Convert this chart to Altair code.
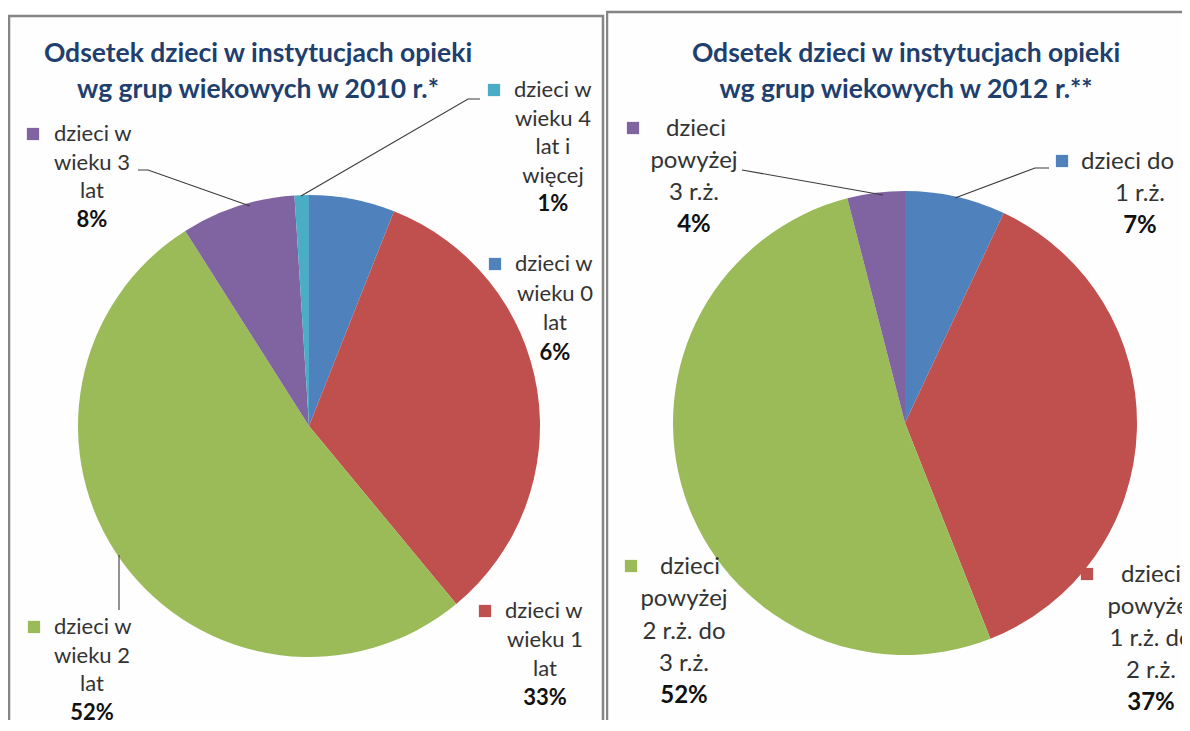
import altair as alt
import pandas as pd

# ---------------- data ----------------
title_2010 = ["Odsetek dzieci w instytucjach opieki", "wg grup wiekowych w 2010 r.*"]
title_2012 = ["Odsetek dzieci w instytucjach opieki", "wg grup wiekowych w 2012 r.**"]

cats_2010 = ["dzieci w wieku 0 lat", "dzieci w wieku 1 lat", "dzieci w wieku 2 lat",
             "dzieci w wieku 3 lat", "dzieci w wieku 4 lat i więcej"]
vals_2010 = [6, 33, 52, 8, 1]
lines_2010 = [["dzieci w", "wieku 0", "lat"], ["dzieci w", "wieku 1", "lat"],
              ["dzieci w", "wieku 2", "lat"], ["dzieci w", "wieku 3", "lat"],
              ["dzieci w", "wieku 4", "lat i", "więcej"]]

cats_2012 = ["dzieci do 1 r.ż.", "dzieci powyżej 1 r.ż. do 2 r.ż.",
             "dzieci powyżej 2 r.ż. do 3 r.ż.", "dzieci powyżej 3 r.ż."]
vals_2012 = [7, 37, 52, 4]
lines_2012 = [["dzieci do", "1 r.ż."], ["dzieci", "powyżej", "1 r.ż. do", "2 r.ż."],
              ["dzieci", "powyżej", "2 r.ż. do", "3 r.ż."], ["dzieci", "powyżej", "3 r.ż."]]

colors_2010 = ["#4F81BD", "#C0504D", "#9BBB59", "#8064A2", "#4BACC6"]
colors_2012 = ["#4F81BD", "#C0504D", "#9BBB59", "#8064A2"]

# ---------------- layout (page pixels) ----------------
FONT = "Lato"
TITLE_COLOR = "#1F3F6E"
W1, W2, H = 598, 576, 712

# per label: marker x, marker y, first-line left x, centre x of other lines, first y, line gap
layout_2010 = [(495, 264, 515, 555, 264, 29.5), (485, 611, 505, 545, 611, 29),
               (34, 627, 54, 92, 627, 28.7), (33, 134, 54, 92, 134, 28.5),
               (494, 90, 514, 553, 90, 28.5)]
layout_2012 = [(1062, 161, 1081, 1140, 162, 32), (1087, 574, 1121, 1151, 575, 32),
               (631, 566, 660, 684, 567, 32.3), (633, 128, 666, 694, 129, 32)]

leaders_2010 = [[(138, 170), (148, 170), (250, 206)],
                [(301, 196), (468, 99), (480, 99)],
                [(119, 555), (119, 610)]]
leaders_2012 = [[(742, 170), (883, 195)],
                [(955, 198), (1035, 168), (1049, 168)]]


def panel(ox, oy, W, cats, vals, colors, lines, layout, leaders, title, title_cx,
          title_ys, cx, cy, r, frame, fsize, clip):
    xs = alt.X("x:Q", scale=alt.Scale(domain=[0, W], nice=False, zero=False), axis=None)
    ys = alt.Y("y:Q", scale=alt.Scale(domain=[0, H], nice=False, zero=False, reverse=True), axis=None)

    fx0, fy0, fx1, fy1 = frame
    frame_df = pd.DataFrame({"x": [fx0 - ox], "x2": [fx1 - ox], "y": [fy0 - oy], "y2": [fy1 - oy]})
    frame_l = alt.Chart(frame_df).mark_rect(fill="#fefefe", stroke="#858585", strokeWidth=2.5,
                                            clip=True).encode(x=xs, x2="x2:Q", y=ys, y2="y2:Q")

    pie_df = pd.DataFrame({"cat": cats, "value": vals, "idx": list(range(len(cats)))})
    color = alt.Color("cat:N", scale=alt.Scale(domain=cats, range=colors), legend=None)
    pie = alt.Chart(pie_df).mark_arc(radius=r).encode(
        theta=alt.Theta("value:Q", stack=True),
        color=color,
        order=alt.Order("idx:Q"),
        x=alt.value(cx - ox), y=alt.value(cy - oy))

    lrows = []
    for i, pts in enumerate(leaders):
        for k, (px, py) in enumerate(pts):
            lrows.append({"id": i, "k": k, "x": px - ox, "y": py - oy})
    lead = alt.Chart(pd.DataFrame(lrows)).mark_line(color="#3a3a3a", strokeWidth=1.1).encode(
        x=xs, y=ys, detail="id:N", order="k:Q")

    mk, first, mid, pct = [], [], [], []
    for c, v, ln, (mx, my, fx, ccx, y0, gap) in zip(cats, vals, lines, layout):
        mk.append({"cat": c, "x": mx - ox, "y": my - oy})
        first.append({"t": ln[0], "x": fx - ox, "y": y0 - oy})
        for j, t in enumerate(ln[1:], start=1):
            mid.append({"t": t, "x": ccx - ox, "y": y0 + j * gap - oy})
        pct.append({"t": f"{v}%", "x": ccx - ox, "y": y0 + len(ln) * gap - oy})

    markers = alt.Chart(pd.DataFrame(mk)).mark_square(size=150, opacity=1, clip=clip).encode(
        x=xs, y=ys, color=color)
    tfirst = alt.Chart(pd.DataFrame(first)).mark_text(
        align="left", baseline="middle", font=FONT, fontSize=fsize, color="#333333", clip=clip
    ).encode(x=xs, y=ys, text="t:N")
    tmid = alt.Chart(pd.DataFrame(mid)).mark_text(
        align="center", baseline="middle", font=FONT, fontSize=fsize, color="#333333", clip=clip
    ).encode(x=xs, y=ys, text="t:N")
    tpct = alt.Chart(pd.DataFrame(pct)).mark_text(
        align="center", baseline="middle", font=FONT, fontSize=fsize, fontWeight="bold",
        color="#111111", clip=clip
    ).encode(x=xs, y=ys, text="t:N")

    tdf = pd.DataFrame({"t": title, "x": [title_cx - ox] * len(title), "y": [y - oy for y in title_ys]})
    ttl = alt.Chart(tdf).mark_text(
        align="center", baseline="middle", font=FONT, fontSize=26.5, fontWeight="bold",
        color=TITLE_COLOR
    ).encode(x=xs, y=ys, text="t:N")

    return alt.layer(frame_l, pie, lead, markers, tfirst, tmid, tpct, ttl).resolve_scale(
        color="shared").properties(width=W, height=H)


left = panel(8, 8, W1, cats_2010, vals_2010, colors_2010, lines_2010, layout_2010, leaders_2010,
             title_2010, 258, [54, 90], 309, 426, 231, (9, 16, 603, 760), 22, False)
right = panel(8 + W1, 8, W2, cats_2012, vals_2012, colors_2012, lines_2012, layout_2012,
              leaders_2012, title_2012, 906, [54, 90], 905, 423, 232, (607, 12, 1240, 760), 24, True)

chart = alt.hconcat(left, right, spacing=0).resolve_scale(
    color="independent", theta="independent", x="independent", y="independent"
).configure_view(stroke=None).properties(padding=0, background="white")

chart.save("out.html", embed_options={"renderer": "svg", "actions": False})
